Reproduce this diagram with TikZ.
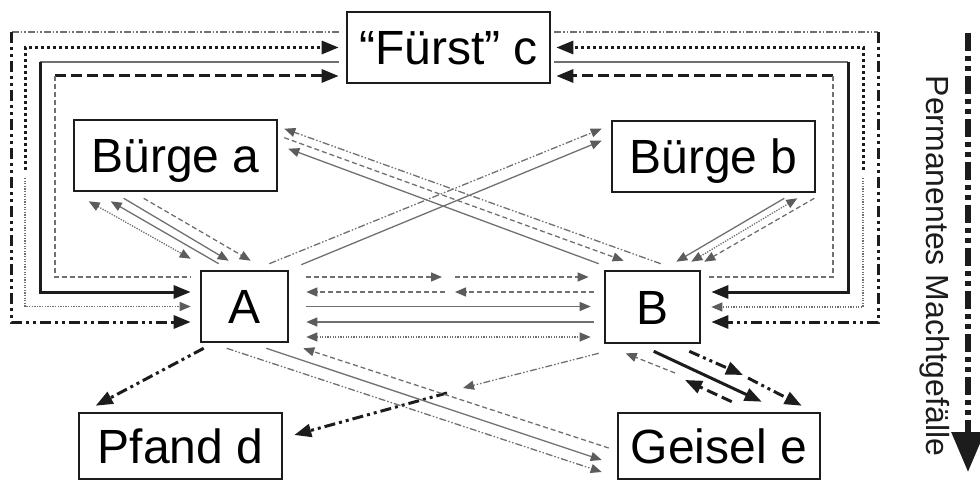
\documentclass[tikz,border=0pt]{standalone}
\usepackage{fontspec}
\setmainfont{Liberation Sans}
\usetikzlibrary{arrows.meta,calc}
\definecolor{lg}{HTML}{707070}
\definecolor{ag}{HTML}{5C5C5C}
\definecolor{bk}{HTML}{1C1C1C}
\tikzset{
  box/.style={draw=bk, line width=2.6pt, inner sep=0pt, font=\fontsize{48}{50}\selectfont, text height=34.5pt, text depth=0pt},
  gline/.style={draw=lg, line width=1.3pt},
  bline/.style={draw=bk, line width=3pt},
  gdash/.style={gline, dash pattern=on 5pt off 3pt},
  gdot/.style={gline, dash pattern=on 1.3pt off 1.3pt},
  gdd/.style={gline, dash pattern=on 7pt off 2pt on 1.5pt off 2pt on 1.5pt off 2pt},
  bdash/.style={bline, dash pattern=on 11pt off 5pt},
  bdot/.style={bline, dash pattern=on 3pt off 3pt},
  bdd/.style={bline, dash pattern=on 11pt off 4pt on 3pt off 4pt on 3pt off 4pt},
  gtip/.style={-{Triangle[length=11pt,width=9pt,color=ag]}},
  gtips/.style={{Triangle[length=11pt,width=9pt,color=ag]}-{Triangle[length=11pt,width=9pt,color=ag]}},
  btip/.style={-{Triangle[length=17pt,width=13pt,color=bk]}},
  bigarrow/.style={draw=bk, line width=6pt, dash pattern=on 18pt off 5pt on 5pt off 5pt on 5pt off 5pt, -{Triangle[length=40pt,width=32pt,color=bk]}}
}
\begin{document}
\begin{tikzpicture}[x=1pt,y=-1pt]
\useasboundingbox (0,0) rectangle (980,481);
% boxes
\node[box, minimum width=203pt, minimum height=71pt] (c) at (448.5,47.5) {“Fürst” c};
\node[box, minimum width=203pt, minimum height=71pt] (ba) at (175.5,155.5) {Bürge a};
\node[box, minimum width=203pt, minimum height=71pt] (bb) at (713.5,156.5) {Bürge b};
\node[box, minimum width=87pt, minimum height=71pt] (A) at (244.5,306.5) {A};
\node[box, minimum width=95pt, minimum height=72pt] (B) at (652.5,307) {B};
\node[box, minimum width=203pt, minimum height=66pt] (d) at (180.5,446) {Pfand d};
\node[box, minimum width=202pt, minimum height=66pt] (e) at (719,446) {Geisel e};

% left frame
\coordinate (l1) at (11,32);
\draw[gdd] ([shift={(-7,-15.5)}]c.west) -- (l1);
\draw[bdd, btip] (l1) |- ([shift={(-9,15.5)}]A.west);
\coordinate (l2a) at (25,170);
\coordinate (l2b) at (25,178);
\draw[bdot, btip] (l2a) |- ([xshift=-7]c.west);
\draw[gdot, gtip] (l2b) |- ([xshift=-9]A.west);
\coordinate (l3) at (40,62);
\draw[gline] ([shift={(-7,14.5)}]c.west) -- (l3);
\draw[bline, btip] (l3) |- ([shift={(-9,-14.5)}]A.west);
\coordinate (l4) at (55,76);
\draw[bdash, btip] (l4) -- ([shift={(-7,28.5)}]c.west);
\draw[gdash] (l4) |- ([shift={(-9,-29.5)}]A.west);

% right frame
\coordinate (r1) at (878,32);
\draw[gdd] ([shift={(3,-15.5)}]c.east) -- (r1);
\draw[bdd, btip] (r1) |- ([shift={(10,15)}]B.east);
\coordinate (r2a) at (863,170);
\coordinate (r2b) at (863,178);
\draw[bdot, btip] (r2a) |- ([xshift=5]c.east);
\draw[gdot, gtip] (r2b) |- ([xshift=10]B.east);
\coordinate (r3) at (848,62);
\draw[gline] ([shift={(3,14.5)}]c.east) -- (r3);
\draw[bline, btip] (r3) |- ([shift={(10,-15)}]B.east);
\coordinate (r4) at (833,76);
\draw[bdash, btip] (r4) -- ([shift={(5,28.5)}]c.east);
\draw[gdash] (r4) |- ([shift={(8,-30)}]B.east);

% centre A -- B
\coordinate (m1) at (442,277);
\coordinate (m2) at (455,277);
\coordinate (m3) at (445,292);
\coordinate (m4) at (455,292);
\draw[gdash, gtip] ([shift={(17,-29.5)}]A.east) -- (m1);
\draw[gdash, gtip] (m2) -- ([shift={(-15,-30)}]B.west);
\draw[gdash, gtip] (m3) -- ([shift={(17,-14.5)}]A.east);
\draw[gdash, gtip] ([shift={(-10,-15)}]B.west) -- (m4);
\draw[gline, gtip] ([xshift=17]A.east) -- ([shift={(-13,-0.5)}]B.west);
\draw[gline, gtip] ([shift={(-10,15)}]B.west) -- ([shift={(17,15.5)}]A.east);
\draw[gdot, gtips] ([shift={(17,30.5)}]A.east) -- ([shift={(-13,30)}]B.west);

% Buerge a -- A
\draw[gdot, gtips] ([shift={(16,9)}]ba.south west) -- ([shift={(-9,-11)}]A.north west);
\draw[gline, gtip] ([shift={(19,-6)}]A.north west) -- ([shift={(38,9)}]ba.south west);
\draw[gline, gtip] ([shift={(51,6)}]ba.south west) -- ([shift={(29,-9)}]A.north west);
\draw[gdash, gtip] ([shift={(71,6)}]ba.south west) -- ([shift={(51,-9)}]A.north west);

% Buerge b -- B
\draw[gline, gtip] ([shift={(-32,5)}]bb.south east) -- ([shift={(-25,-8)}]B.north east);
\draw[gdot, gtips] ([shift={(-10,-8)}]B.north east) -- ([shift={(-19,5)}]bb.south east);
\draw[gdash, gtip] ([shift={(-2,5)}]bb.south east) -- ([shift={(3,-8)}]B.north east);

% crossing diagonals
\draw[gdd, gtip] ([shift={(57,-6)}]B.north west) -- ([shift={(6,10)}]ba.north east);
\draw[gdash, gtip] ([shift={(6,19)}]ba.north east) -- ([shift={(20,-9)}]B.north west);
\draw[gline, gtip] ([shift={(-5,-6)}]B.north west) -- ([shift={(10,30)}]ba.north east);
\draw[gdd, gtip] ([shift={(-20,-6)}]A.north east) -- ([shift={(-9,9)}]bb.north west);
\draw[gline, gtip] ([shift={(12,-5)}]A.north east) -- ([shift={(-9,21)}]bb.north west);

% bottom: Pfand d
\draw[bdd, btip] ([shift={(4,5)}]A.south west) -- ([shift={(18,-6)}]d.north west);
\coordinate (p1) at (463,388);
\coordinate (p2) at (447,393);
\draw[gdd, gtip] ([shift={(-5,9)}]B.south west) -- (p1);
\draw[bdd, btip] (p2) -- ([shift={(11,-11)}]d.east);

% bottom: Geisel e -- A
\draw[gline, gtip] ([shift={(-23,5)}]A.south east) -- ([shift={(-15,14)}]e.west);
\draw[gdd, gtip] ([shift={(27,5)}]A.south west) -- ([shift={(-15,26)}]e.west);
\draw[gdash, gtip] ([shift={(-8,2)}]e.west) -- ([shift={(14,5)}]A.south east);

% bottom: Geisel e -- B
\coordinate (q1) at (685,380);
\coordinate (q2) at (675,373);
\draw[bdash, btip] ([shift={(115,-10)}]e.north west) -- (q1);
\draw[gdash, gtip] (q2) -- ([shift={(22,9)}]B.south west);
\draw[bline, btip] ([shift={(50,7)}]B.south west) -- ([shift={(145,-10)}]e.north west);
\coordinate (q3) at (743,375);
\coordinate (q4) at (748,378);
\draw[bdd, btip] ([shift={(-12,7)}]B.south east) -- (q3);
\draw[bdd, btip] (q4) -- ([shift={(185,-6)}]e.north west);

% power gradient arrow
\coordinate (pt) at (968,33);
\coordinate (pb) at (968,472);
\draw[bigarrow] (pt) -- (pb);
\node[rotate=-90, inner sep=0pt, font=\fontsize{32}{34}\selectfont, text=bk] (pm) at (935,266) {Permanentes Machtgefälle};
\end{tikzpicture}
\end{document}
